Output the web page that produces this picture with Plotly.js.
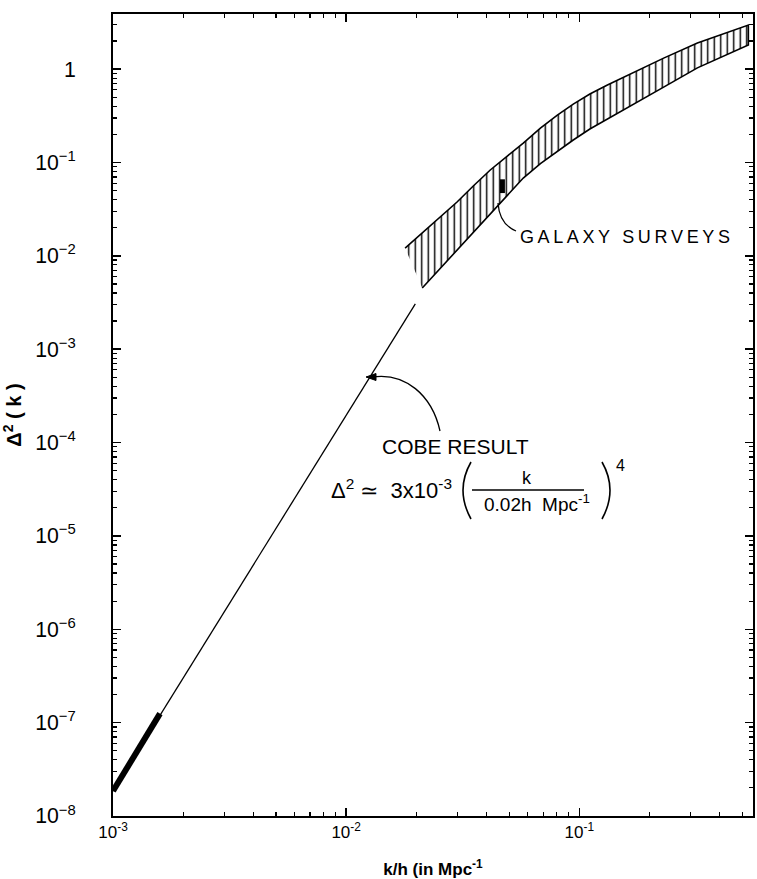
<!DOCTYPE html>
<html>
<head>
<meta charset="utf-8">
<script src="https://cdn.plot.ly/plotly-3.0.1.min.js"></script>
<style>html,body{margin:0;padding:0;background:#fff;}#chart{width:757px;height:879px;}</style>
</head>
<body>
<div id="chart"></div>
<script>
// ---- data ----
const k_cobe = [0.001, 0.0198];
const d2_cobe = [1.85e-8, 3.05e-3];
const k_cobe_data = [0.001, 0.00159];
const d2_cobe_data = [1.85e-8, 1.25e-7];

const k_band_upper = [0.0179, 0.0214, 0.0253, 0.0299, 0.0351, 0.0415, 0.0491, 0.0575, 0.0681, 0.0805, 0.0942, 0.111, 0.132, 0.155, 0.183, 0.230, 0.321, 0.445, 0.531];
const d2_band_upper = [0.0121, 0.0180, 0.0260, 0.0377, 0.0559, 0.0830, 0.117, 0.161, 0.233, 0.321, 0.422, 0.540, 0.674, 0.821, 1.00, 1.31, 1.90, 2.55, 2.96];
const k_band_lower = [0.0212, 0.0253, 0.0299, 0.0351, 0.0415, 0.0491, 0.0575, 0.0681, 0.0805, 0.0942, 0.111, 0.132, 0.155, 0.183, 0.230, 0.321, 0.445, 0.531];
const d2_band_lower = [0.00452, 0.00731, 0.01153, 0.01776, 0.02803, 0.04424, 0.0681, 0.0973, 0.132, 0.174, 0.228, 0.292, 0.364, 0.466, 0.641, 1.03, 1.48, 1.81];

const k_galaxy_point = [0.0468, 0.0468];
const d2_galaxy_point = [0.047, 0.066];

const x_tick_vals = [0.001, 0.01, 0.1];
const x_tick_text = ['10<sup>-3</sup>', '10<sup>-2</sup>', '10<sup>-1</sup>'];

// ---- layout helpers ----
const W = 757, H = 879;
const ML = 113, MR = 4, MT = 14, MB = 63;
const PL = ML, PR = W - MR, PT = MT, PB = H - MB;
const X = px => (px - PL) / (PR - PL);
const Y = py => (PB - py) / (PB - PT);
const FONT = 'Liberation Sans, Arial, sans-serif';
const GAP = '\u2002\u2002\u2002'; // pushes y tick labels away from the axis

const bandX = k_band_upper.concat(k_band_lower.slice().reverse());
const bandY = d2_band_upper.concat(d2_band_lower.slice().reverse());

const traces = [
  { x: k_cobe, y: d2_cobe, mode: 'lines', line: { color: '#000', width: 1.3 }, showlegend: false, hoverinfo: 'skip' },
  { x: k_cobe_data, y: d2_cobe_data, mode: 'lines', line: { color: '#000', width: 6 }, showlegend: false, hoverinfo: 'skip' },
  { x: bandX, y: bandY, mode: 'lines', fill: 'toself', line: { color: '#000', width: 1.6 },
    fillcolor: 'rgba(0,0,0,0)',
    fillpattern: { shape: '|', size: 6.5, solidity: 0.22, fgcolor: '#000', bgcolor: 'rgba(255,255,255,0)' },
    showlegend: false, hoverinfo: 'skip' },
  { x: k_galaxy_point, y: d2_galaxy_point, mode: 'lines', line: { color: '#000', width: 5 }, showlegend: false, hoverinfo: 'skip' }
];

const axisCommon = {
  type: 'log', showgrid: false, zeroline: false,
  showline: true, linecolor: '#000', linewidth: 2, mirror: 'ticks',
  ticks: 'inside', ticklen: 8, tickwidth: 1.5, tickcolor: '#000',
  tickfont: { family: FONT, size: 17, color: '#000' }
};

const layout = {
  width: W, height: H,
  margin: { l: ML, r: MR, t: MT, b: MB },
  paper_bgcolor: '#fff', plot_bgcolor: '#fff',
  showlegend: false,
  xaxis: Object.assign({}, axisCommon, {
    range: [-3, -0.255],
    tickmode: 'array', tickvals: x_tick_vals, ticktext: x_tick_text,
    minor: { ticks: 'inside', ticklen: 4, tickwidth: 1.2, tickcolor: '#000', dtick: 'D1', showgrid: false },
    title: { text: '<b>k/h (in Mpc<sup>-1</sup></b>', standoff: 24,
      font: { family: FONT, size: 17, color: '#000' } }
  }),
  yaxis: Object.assign({}, axisCommon, {
    range: [-8, 0.59],
    dtick: 1, exponentformat: 'power', ticksuffix: GAP,
    minor: { ticks: 'inside', ticklen: 4, tickwidth: 1.2, tickcolor: '#000', showgrid: false },
    title: { text: '<b>Δ<sup>2</sup> ( k )</b>', standoff: 16,
      font: { family: FONT, size: 20, color: '#000' } }
  }),
  annotations: [
    { xref: 'paper', yref: 'paper', x: X(518), y: Y(237), xanchor: 'left', yanchor: 'middle', showarrow: false,
      text: 'GALAXY SURVEYS'.split('').join('\u2009'),
      font: { family: FONT, size: 18, color: '#000' } },
    { xref: 'paper', yref: 'paper', x: X(455), y: Y(446), xanchor: 'center', yanchor: 'middle', showarrow: false,
      text: 'COBE RESULT',
      font: { family: FONT, size: 21, color: '#000' } },
    { xref: 'paper', yref: 'paper', x: X(329), y: Y(489), xanchor: 'left', yanchor: 'middle', showarrow: false,
      text: 'Δ<sup>2</sup> ≃  3x10<sup>-3</sup>',
      font: { family: FONT, size: 22, color: '#000' } },
    { xref: 'paper', yref: 'paper', x: X(527), y: Y(478), xanchor: 'center', yanchor: 'middle', showarrow: false,
      text: 'k',
      font: { family: FONT, size: 18, color: '#000' } },
    { xref: 'paper', yref: 'paper', x: X(537), y: Y(503), xanchor: 'center', yanchor: 'middle', showarrow: false,
      text: '0.02h  Mpc<sup>-1</sup>',
      font: { family: FONT, size: 19, color: '#000' } },
    { xref: 'paper', yref: 'paper', x: X(620), y: Y(465), xanchor: 'center', yanchor: 'middle', showarrow: false,
      text: '4',
      font: { family: FONT, size: 16, color: '#000' } }
  ],
  shapes: [
    { type: 'path', xref: 'paper', yref: 'paper',
      path: `M ${X(440)},${Y(431)} C ${X(432)},${Y(395)} ${X(405)},${Y(372)} ${X(372)},${Y(377)}`,
      line: { color: '#000', width: 1.3 } },
    { type: 'path', xref: 'paper', yref: 'paper',
      path: `M ${X(366)},${Y(377)} L ${X(376)},${Y(373.5)} L ${X(376)},${Y(380.5)} Z`,
      fillcolor: '#000', line: { color: '#000', width: 1 } },
    { type: 'path', xref: 'paper', yref: 'paper',
      path: `M ${X(498)},${Y(203)} C ${X(499)},${Y(218)} ${X(506)},${Y(227)} ${X(516)},${Y(231)}`,
      line: { color: '#000', width: 1.3 } },
    { type: 'line', xref: 'paper', yref: 'paper', x0: X(472), x1: X(584), y0: Y(490), y1: Y(490),
      line: { color: '#000', width: 1.3 } },
    { type: 'path', xref: 'paper', yref: 'paper',
      path: `M ${X(471)},${Y(462)} Q ${X(455)},${Y(490)} ${X(471)},${Y(519)}`,
      line: { color: '#000', width: 1.6 } },
    { type: 'path', xref: 'paper', yref: 'paper',
      path: `M ${X(602)},${Y(462)} Q ${X(618)},${Y(490)} ${X(602)},${Y(519)}`,
      line: { color: '#000', width: 1.6 } }
  ]
};

Plotly.newPlot('chart', traces, layout, { staticPlot: true, displayModeBar: false });
</script>
</body>
</html>
